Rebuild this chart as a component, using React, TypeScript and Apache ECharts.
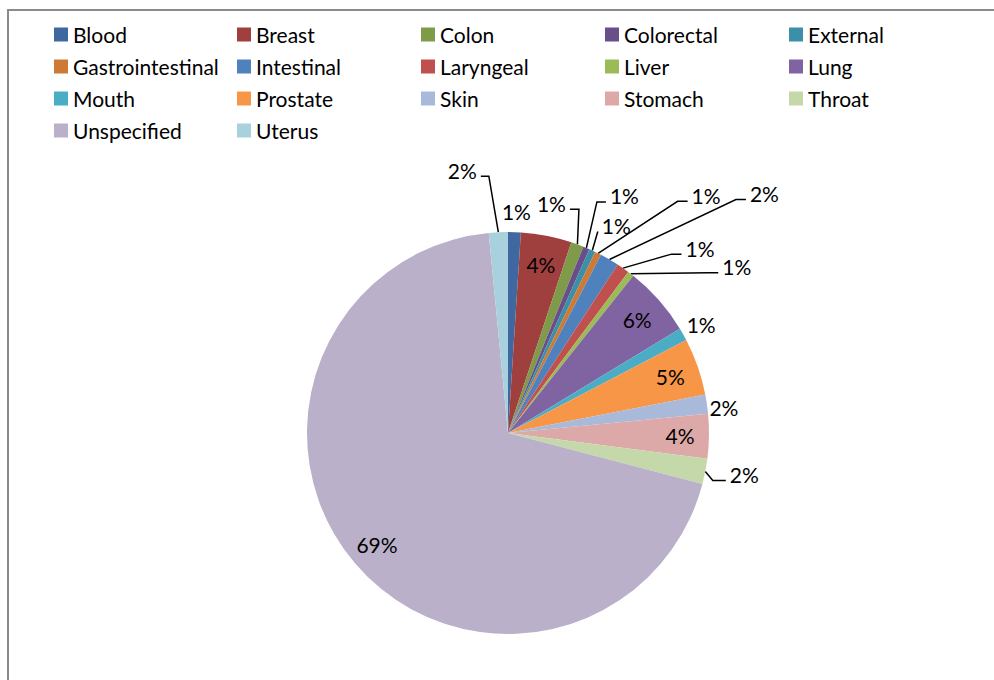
import React, { useEffect, useRef } from "react";
import * as echarts from "echarts";

const categories = [
  "Blood", "Breast", "Colon", "Colorectal", "External", "Gastrointestinal",
  "Intestinal", "Laryngeal", "Liver", "Lung", "Mouth", "Prostate", "Skin",
  "Stomach", "Throat", "Unspecified", "Uterus",
];
const counts = [2, 8, 2, 1, 1, 1, 3, 2, 1, 11, 2, 9, 3, 7, 4, 136, 3];
const colors = [
  "#3F68A0", "#A0403E", "#7F9A48", "#694F8A", "#3C8FA8", "#CC7A36",
  "#4F81BD", "#C0504D", "#9BBB59", "#8064A2", "#4BACC6", "#F79646",
  "#A9B9DA", "#DDA9A8", "#C5D8AA", "#BAB0CA", "#A8D0DD",
];
const insideLabelled = ["Breast", "Lung", "Prostate", "Stomach", "Unspecified"];
const legendColumns = [
  ["Blood", "Gastrointestinal", "Mouth", "Unspecified"],
  ["Breast", "Intestinal", "Prostate", "Uterus"],
  ["Colon", "Laryngeal", "Skin"],
  ["Colorectal", "Liver", "Stomach"],
  ["External", "Lung", "Throat"],
];

// layout / style settings (not data)
const legendLefts = [54, 237, 421, 605, 789];
const CX = 508;
const CY = 433;
const R = 201;
type Placement = { dx: number; dy: number; leader: "left" | "right" | "none"; h: number };
// label centre offset from the slice's outer mid point, and leader style
const labelPlacement: Record<string, Placement> = {
  Uterus: { dx: -36, dy: -62, leader: "right", h: 8 },
  Blood: { dx: 2, dy: -21, leader: "none", h: 0 },
  Colon: { dx: -26, dy: -41, leader: "right", h: 9 },
  Colorectal: { dx: 38, dy: -52, leader: "left", h: 9 },
  External: { dx: 24, dy: -25, leader: "left", h: 0 },
  Gastrointestinal: { dx: 108, dy: -58, leader: "left", h: 10 },
  Intestinal: { dx: 155, dy: -66, leader: "left", h: 10 },
  Laryngeal: { dx: 77, dy: -20, leader: "left", h: 10 },
  Liver: { dx: 106, dy: -7, leader: "left", h: 10 },
  Mouth: { dx: 18, dy: -10, leader: "none", h: 0 },
  Skin: { dx: 17, dy: 3, leader: "none", h: 0 },
  Throat: { dx: 39, dy: 3, leader: "left", h: 13 },
};

const FONT = "Lato, 'Open Sans', sans-serif";
const FS = 21;

export default function App() {
  const ref = useRef<HTMLDivElement>(null);
  useEffect(() => {
    if (!ref.current) return;
    const chart = echarts.init(ref.current, null, { renderer: "svg" });
    const total = counts.reduce((a, b) => a + b, 0);
    const edgePoint = (i: number) => {
      let cum = 0;
      for (let j = 0; j < i; j++) cum += counts[j];
      const a = ((cum + counts[i] / 2) / total) * Math.PI * 2;
      return [CX + R * Math.sin(a), CY - R * Math.cos(a)];
    };
    const fmt = (p: any) => Math.round(p.percent) + "%";
    const option: any = {
      animation: false,
      backgroundColor: "#ffffff",
      graphic: [
        {
          type: "rect",
          shape: { x: 8, y: 10, width: 1100, height: 800 },
          style: { fill: "none", stroke: "#8a8a8a", lineWidth: 2 },
          silent: true,
        },
      ],
      legend: legendColumns.map((col, i) => ({
        data: col,
        orient: "vertical",
        left: legendLefts[i],
        top: 24,
        padding: 0,
        itemWidth: 14,
        itemHeight: 14,
        itemGap: 11,
        icon: "rect",
        selectedMode: false,
        textStyle: { fontFamily: FONT, fontSize: FS, color: "#000" },
      })),
      series: [
        {
          type: "pie",
          center: [CX, CY],
          radius: R,
          startAngle: 90,
          clockwise: true,
          avoidLabelOverlap: false,
          label: {
            show: true,
            position: "outside",
            formatter: fmt,
            fontFamily: FONT,
            fontSize: FS,
            color: "#000",
          },
          labelLine: {
            show: true,
            length: 10,
            length2: 10,
            lineStyle: { color: "#000", width: 1.5 },
          },
          labelLayout: (params: any) => {
            if (params.seriesIndex !== 0) return {};
            const name = categories[params.dataIndex];
            const p = labelPlacement[name];
            if (!p) return {};
            const [ex, ey] = edgePoint(params.dataIndex);
            const lx = ex + p.dx;
            const ly = ey + p.dy;
            const w = params.labelRect ? params.labelRect.width : 28;
            const res: any = { x: lx, y: ly, align: "center", verticalAlign: "middle" };
            if (p.leader === "left") {
              const endX = lx - w / 2 - 4;
              res.labelLinePoints = [[ex, ey], [endX - p.h, ly + 6], [endX, ly + 6]];
            } else if (p.leader === "right") {
              const endX = lx + w / 2 + 4;
              res.labelLinePoints = [[ex, ey], [endX + p.h, ly + 6], [endX, ly + 6]];
            }
            return res;
          },
          emphasis: { disabled: true },
          data: categories.map((name, i) => {
            const d: any = { name, value: counts[i], itemStyle: { color: colors[i] } };
            if (insideLabelled.includes(name)) {
              d.label = { show: false };
              d.labelLine = { show: false };
            } else if (labelPlacement[name] && labelPlacement[name].leader === "none") {
              d.labelLine = { show: false };
            }
            return d;
          }),
        },
        {
          type: "pie",
          center: [CX, CY],
          radius: [138, 200],
          startAngle: 90,
          clockwise: true,
          silent: true,
          emphasis: { disabled: true },
          itemStyle: { color: "rgba(0,0,0,0)" },
          label: {
            show: true,
            position: "inside",
            formatter: fmt,
            fontFamily: FONT,
            fontSize: FS,
            color: "#000",
          },
          labelLine: { show: false },
          data: categories.map((name, i) => ({
            name,
            value: counts[i],
            label: { show: insideLabelled.includes(name) },
          })),
        },
      ],
    };
    chart.setOption(option);
    return () => chart.dispose();
  }, []);
  return (
    <div
      ref={ref}
      style={{ position: "fixed", left: 0, top: 0, width: 994, height: 680 }}
    />
  );
}
